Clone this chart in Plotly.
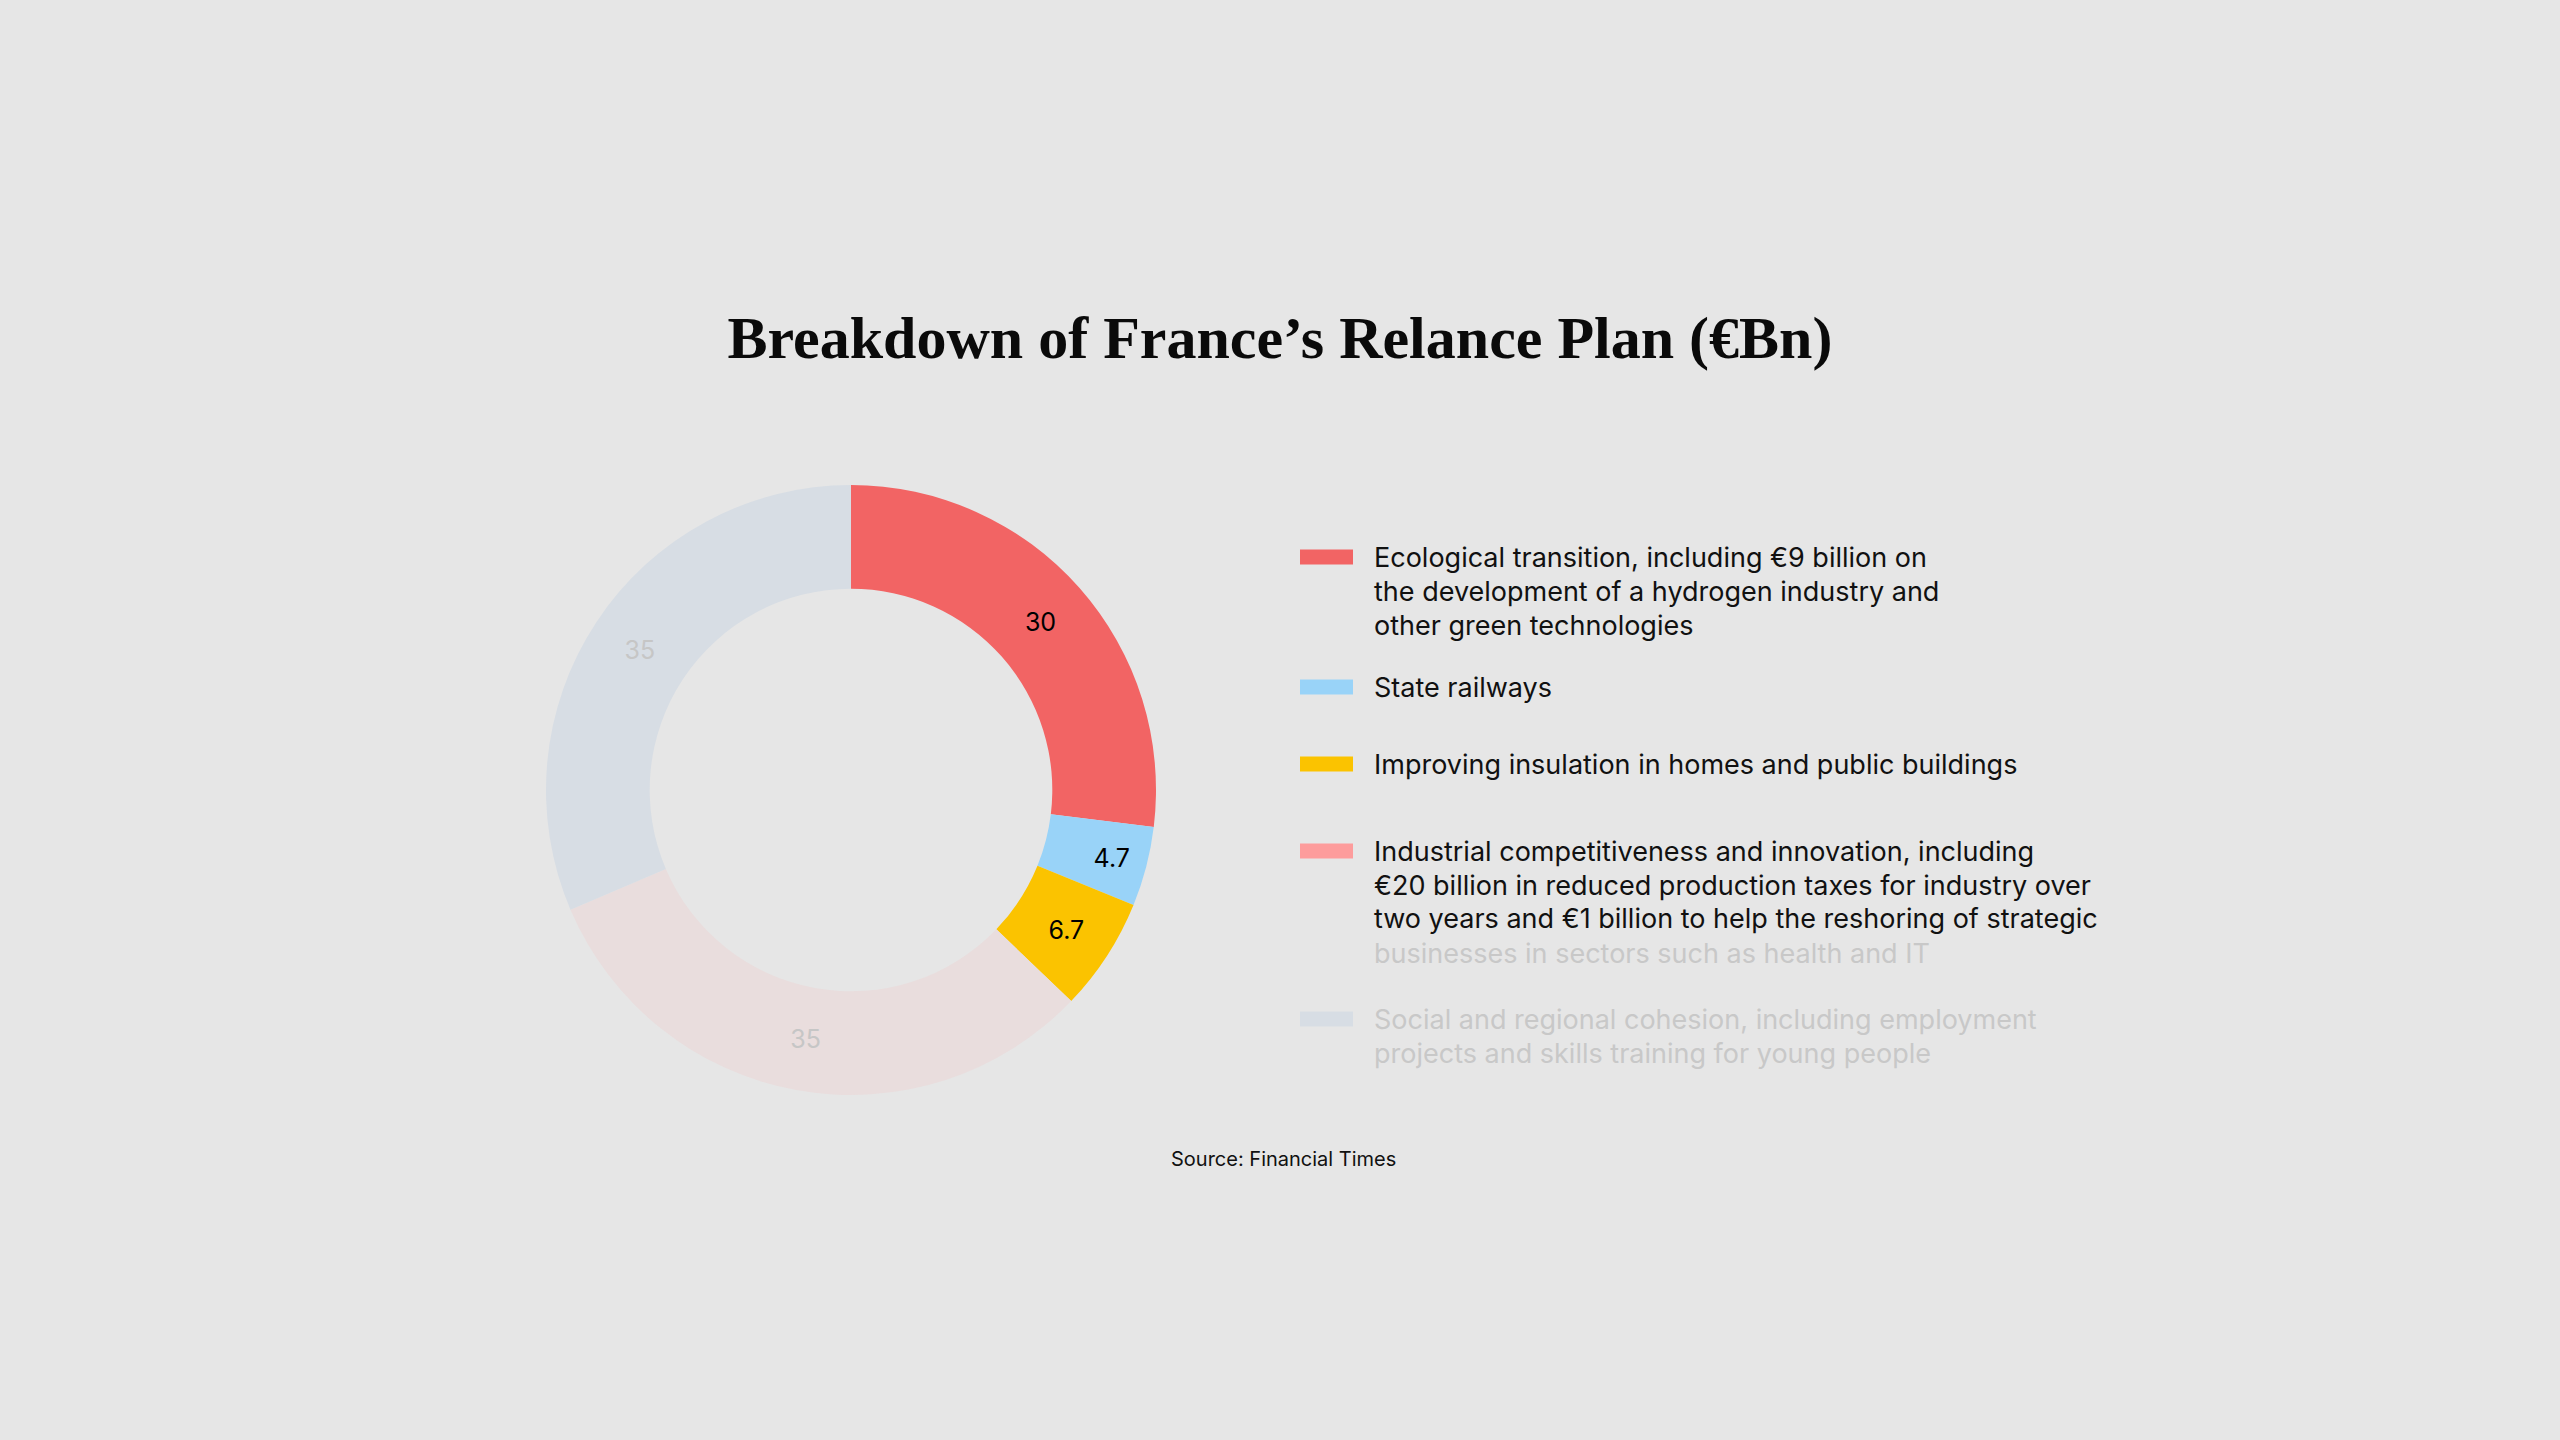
import plotly.graph_objects as go

# ---- data ----
categories = [
    "Ecological transition, including €9 billion on<br>the development of a hydrogen industry and<br>other green technologies",
    "State railways",
    "Improving insulation in homes and public buildings",
    "Industrial competitiveness and innovation, including<br>€20 billion in reduced production taxes for industry over<br>two years and €1 billion to help the reshoring of strategic<br>businesses in sectors such as health and IT",
    "Social and regional cohesion, including employment<br>projects and skills training for young people",
]
values = [30, 4.7, 6.7, 35, 35]
value_labels = ["30", "4.7", "6.7", "35", "35"]

# ---- styles ----
slice_colors = ["#f26464", "#99d3f8", "#fbc300", "#e9dddd", "#d7dde4"]
swatch_colors = ["#f26464", "#99d3f8", "#fbc300", "#fd9c9c", "#d7dde4"]
label_colors = ["#000000", "#000000", "#000000", "#c6c6c6", "#c6c6c6"]
faded_text = "#c8c8c8"
bg = "#e6e6e6"
W, H = 2560, 1440
SANS = "Inter, Roboto, Arial, sans-serif"

fig = go.Figure()
fig.add_trace(go.Pie(
    values=values,
    labels=[c.split("<br>")[0] for c in categories],
    text=value_labels,
    textinfo="text",
    textposition="inside",
    insidetextorientation="horizontal",
    textfont=dict(family=SANS, size=25, color=label_colors),
    marker=dict(colors=slice_colors, line=dict(width=0)),
    sort=False,
    direction="clockwise",
    rotation=0,
    hole=0.66,
    showlegend=False,
    hoverinfo="skip",
    domain=dict(x=[(851 - 305) / W, (851 + 305) / W],
                y=[(H - 790 - 305) / H, (H - 790 + 305) / H]),
))

# ---- manual legend (layout) ----
legend_first_line_px = [557, 687, 764, 851, 1019]
line_h = 34
shapes = []
annotations = []
for i, (cat, col) in enumerate(zip(categories, swatch_colors)):
    yc = legend_first_line_px[i]
    shapes.append(dict(type="rect", xref="paper", yref="paper",
                       x0=1300 / W, x1=1353 / W,
                       y0=1 - (yc + 7.5) / H, y1=1 - (yc - 7.5) / H,
                       fillcolor=col, line=dict(width=0), layer="above"))
    lines = cat.split("<br>")
    if i == 3:
        lines[-1] = f'<span style="color:{faded_text}">{lines[-1]}</span>'
        color = "#111111"
    elif i == 4:
        color = faded_text
    else:
        color = "#111111"
    for j, ln in enumerate(lines):
        annotations.append(dict(
            text=ln, xref="paper", yref="paper",
            x=1372 / W, y=1 - (yc + j * line_h) / H,
            xanchor="left", yanchor="middle", showarrow=False, align="left",
            font=dict(family=SANS, size=27, color=color)))

annotations.append(dict(
    text="Source: Financial Times", xref="paper", yref="paper",
    x=1283 / W, y=1 - 1159 / H, xanchor="center", yanchor="middle",
    showarrow=False, font=dict(family=SANS, size=20, color="#111111")))

fig.update_layout(
    width=W, height=H,
    paper_bgcolor=bg, plot_bgcolor=bg,
    margin=dict(l=0, r=0, t=0, b=0),
    title=dict(text="<b>Breakdown of France’s Relance Plan (€Bn)</b>",
               x=0.5, xanchor="center", y=1 - 337 / H, yanchor="middle",
               font=dict(family="Liberation Serif, Times New Roman, serif",
                         size=60, color="#0a0a0a")),
    shapes=shapes,
    annotations=annotations,
)

fig.write_html(
    "out.html",
    config=dict(displayModeBar=False),
    post_script="document.body.style.margin='0';document.body.style.background='#e6e6e6';document.body.style.overflow='hidden';",
)
